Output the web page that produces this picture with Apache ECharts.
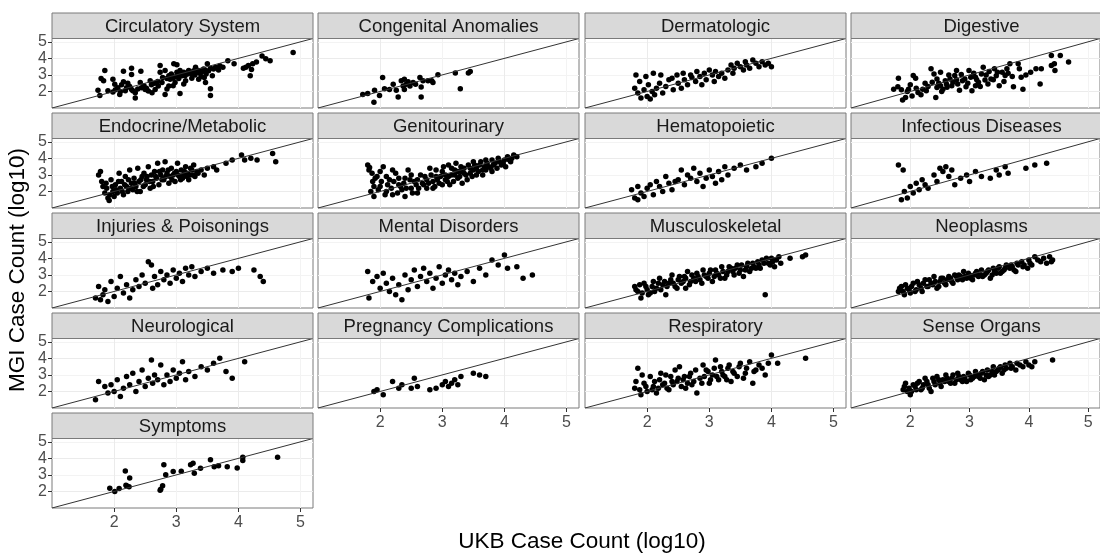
<!DOCTYPE html>
<html><head><meta charset="utf-8">
<script src="https://cdn.jsdelivr.net/npm/echarts@6/dist/echarts.min.js"></script>
<style>html,body{margin:0;padding:0;background:#fff}#c{width:1100px;height:555px}</style>
</head><body><div id="c"></div>
<script>
const panelNames = ["Circulatory System","Congenital Anomalies","Dermatologic","Digestive","Endocrine/Metabolic","Genitourinary","Hematopoietic","Infectious Diseases","Injuries & Poisonings","Mental Disorders","Musculoskeletal","Neoplasms","Neurological","Pregnancy Complications","Respiratory","Sense Organs","Symptoms"];
const tickValues = [2,3,4,5];
const axisMin = 1.0, axisMax = 5.2;
const xTitle = "UKB Case Count (log10)";
const yTitle = "MGI Case Count (log10)";

const circulatory = [[1.74,2.08],[1.77,1.75],[1.79,2.79],[1.83,2.64],[1.85,3.26],[1.98,2.74],[2.01,2.43],[2.06,2.23],[1.98,1.96],[2.09,1.81],[2.15,3.22],[2.15,2.58],[2.28,3.40],[2.28,3.03],[2.43,3.22],[2.28,2.12],[2.34,1.61],[2.34,1.92],[2.20,2.23],[2.42,2.54],[2.44,2.23],[2.50,2.12],[2.58,2.64],[2.55,2.02],[2.61,1.92],[2.71,2.33],[2.66,2.12],[2.74,3.16],[2.74,3.57],[2.82,3.26],[2.82,1.81],[2.88,2.33],[2.90,2.74],[2.96,3.67],[3.01,3.61],[2.93,2.95],[2.98,2.54],[3.06,1.88],[3.09,2.95],[3.12,3.16],[3.15,2.64],[3.20,3.26],[3.25,3.05],[3.31,3.47],[3.34,3.16],[3.36,2.74],[3.39,3.26],[3.44,3.36],[3.50,3.67],[2.77,2.54],[2.85,2.79],[3.06,3.26],[3.01,3.16],[3.04,2.79],[2.88,2.95],[4.88,4.36],[4.38,4.15],[4.44,3.98],[4.51,3.86],[4.29,3.78],[4.23,3.67],[4.16,3.57],[4.08,3.40],[4.21,3.32],[4.19,2.95],[4.12,3.47],[3.93,3.67],[3.83,3.86],[3.75,3.47],[3.63,3.47],[3.55,3.40],[3.58,2.95],[3.55,2.17],[3.55,1.75],[3.47,2.54],[1.90,2.05],[2.02,2.10],[2.10,2.00],[2.12,2.40],[2.18,2.05],[2.22,2.50],[2.25,2.30],[2.30,2.05],[2.38,2.15],[2.48,2.35],[2.52,2.20],[2.60,2.40],[2.65,2.50],[2.70,2.60],[2.78,2.85],[2.92,3.05],[2.95,2.80],[3.00,2.90],[3.05,3.00],[3.10,3.10],[3.14,2.95],[3.18,3.05],[3.22,3.15],[3.28,3.25],[3.30,3.00],[3.33,3.30],[3.38,3.10],[3.42,3.20],[3.46,3.30],[3.48,3.05],[3.52,3.25],[3.60,3.35],[3.68,3.30],[3.70,3.55],[3.40,2.90],[3.45,2.85],[3.25,2.80],[3.12,2.45],[2.95,2.35],[2.85,2.15]];
const congenital = [[1.72,1.81],[1.80,1.88],[1.91,2.08],[1.90,1.34],[1.99,1.75],[2.04,2.85],[2.07,2.17],[2.15,2.12],[2.21,2.43],[2.26,2.08],[2.29,1.67],[2.34,2.64],[2.37,2.33],[2.39,2.74],[2.42,2.43],[2.48,2.33],[2.53,2.54],[2.57,2.43],[2.64,2.85],[2.66,2.27],[2.66,1.67],[2.69,2.64],[2.77,2.64],[2.83,2.64],[2.85,2.54],[2.93,3.01],[3.21,3.12],[3.29,2.17],[3.42,3.12],[3.45,3.20],[2.39,2.12],[2.45,2.58]];
const dermatologic = [[1.8,2.2],[1.82,3.0],[1.85,1.9],[1.88,2.6],[1.9,1.6],[1.95,2.1],[1.98,2.9],[2.0,1.7],[2.02,2.4],[2.05,1.55],[2.08,2.0],[2.1,3.1],[2.12,1.8],[2.15,2.2],[2.2,2.5],[2.22,3.0],[2.25,1.9],[2.3,2.3],[2.35,2.7],[2.4,2.8],[2.42,2.1],[2.48,3.0],[2.5,2.5],[2.55,2.2],[2.58,3.1],[2.6,2.7],[2.65,2.4],[2.7,3.0],[2.72,2.85],[2.78,2.6],[2.8,3.2],[2.85,2.9],[2.88,2.4],[2.92,3.1],[2.95,2.7],[3.0,3.3],[3.05,3.0],[3.08,2.6],[3.1,3.2],[3.15,2.9],[3.2,3.1],[3.25,2.8],[3.3,3.3],[3.35,3.6],[3.38,3.1],[3.4,3.4],[3.45,3.7],[3.5,3.5],[3.55,3.3],[3.58,3.8],[3.6,3.6],[3.65,3.4],[3.7,3.9],[3.75,3.7],[3.8,3.5],[3.85,3.8],[3.9,3.6],[3.95,3.7],[4.0,3.5]];
const digestive = [[1.80,2.80],[1.72,2.14],[1.79,2.29],[1.87,1.49],[1.92,1.63],[1.95,2.00],[1.97,2.14],[2.05,2.96],[2.09,2.80],[2.03,1.73],[2.13,1.94],[2.21,2.14],[2.27,2.04],[2.35,3.37],[2.40,3.06],[2.37,2.55],[2.43,1.63],[2.45,2.24],[2.51,2.35],[2.55,2.14],[2.59,2.65],[2.61,2.45],[2.67,2.76],[2.72,2.55],[2.75,2.96],[2.80,2.45],[2.86,3.02],[2.88,2.65],[2.94,2.29],[2.99,3.27],[3.02,2.86],[3.04,2.04],[3.10,2.86],[3.15,2.55],[3.20,3.06],[3.23,3.47],[3.26,2.69],[3.31,2.45],[3.36,2.76],[3.42,3.37],[3.47,3.16],[3.50,2.35],[3.55,3.16],[3.60,2.96],[3.63,3.37],[3.68,3.67],[3.74,2.29],[3.82,3.67],[3.84,3.37],[3.87,2.86],[3.90,2.14],[4.03,3.16],[4.12,3.37],[4.19,2.45],[4.21,3.37],[4.38,4.18],[4.43,3.67],[4.44,3.27],[4.53,4.18],[4.67,3.78],[4.38,3.57],[2.45,2.76],[2.51,3.16],[2.78,3.27],[2.83,2.08],[3.10,2.35],[1.85,2.1],[2.0,2.4],[2.1,2.2],[2.18,1.8],[2.25,2.5],[2.3,2.3],[2.48,2.5],[2.53,2.0],[2.62,2.25],[2.65,3.0],[2.7,2.35],[2.78,2.7],[2.92,2.75],[2.97,2.5],[3.07,3.1],[3.12,2.7],[3.18,2.3],[3.28,3.0],[3.33,3.2],[3.4,2.7],[3.45,2.95],[3.58,2.6],[3.65,3.1],[3.72,2.9],[3.95,3.0]];
const endocrine = [[1.75,3.0],[1.78,3.2],[1.8,2.6],[1.85,1.9],[1.88,2.2],[1.9,1.6],[1.92,1.45],[1.95,2.7],[1.98,2.0],[2.0,1.7],[2.02,2.4],[2.05,1.9],[2.08,3.1],[2.1,2.2],[2.12,2.6],[2.15,1.8],[2.18,2.9],[2.2,2.3],[2.22,2.0],[2.25,3.3],[2.28,2.5],[2.3,2.1],[2.32,2.8],[2.35,2.3],[2.38,3.4],[2.4,2.6],[2.42,2.0],[2.45,2.9],[2.48,3.1],[2.5,2.4],[2.52,2.7],[2.55,3.5],[2.58,2.2],[2.6,3.0],[2.62,2.6],[2.65,3.2],[2.68,2.8],[2.7,3.7],[2.72,2.4],[2.75,3.0],[2.78,3.3],[2.8,2.7],[2.82,3.8],[2.85,3.1],[2.88,2.5],[2.9,2.9],[2.92,3.4],[2.95,3.0],[2.98,2.6],[3.0,3.2],[3.02,3.7],[3.05,2.9],[3.08,3.3],[3.1,2.8],[3.12,3.0],[3.15,3.5],[3.18,3.1],[3.2,2.7],[3.22,3.0],[3.25,3.3],[3.28,3.6],[3.3,2.9],[3.35,3.1],[3.4,3.3],[3.5,3.4],[3.6,3.5],[3.65,3.3],[3.8,3.7],[3.9,3.9],[4.05,4.2],[4.1,3.9],[4.2,4.0],[4.3,3.9],[4.55,4.3],[4.6,3.8],[1.82,2.3],[1.87,2.5],[1.93,1.8],[1.97,2.3],[2.03,2.1],[2.07,2.6],[2.13,2.0],[2.17,2.4],[2.23,2.7],[2.27,2.2],[2.33,2.5],[2.37,2.0],[2.43,2.7],[2.47,2.3],[2.53,2.9],[2.57,2.6],[2.63,2.3],[2.67,2.9],[2.73,3.2],[2.77,2.7],[2.83,2.9],[2.87,3.3],[2.93,2.7],[2.97,3.1],[3.03,3.0],[3.07,2.7],[3.13,3.2],[3.17,2.9],[3.23,3.4],[3.27,3.0],[3.33,3.2],[3.45,3.0]];
const genitourinary = [[1.8,3.6],[1.82,3.3],[1.85,2.0],[1.88,2.6],[1.9,1.7],[1.95,2.9],[2.0,2.3],[2.05,3.5],[2.1,2.0],[2.15,2.7],[2.2,1.8],[2.25,3.1],[2.3,2.4],[2.35,2.1],[2.4,2.8],[2.45,3.3],[2.5,2.2],[2.55,2.6],[2.6,1.9],[2.65,3.0],[2.7,2.4],[2.75,2.7],[2.8,3.4],[2.85,2.2],[2.9,2.9],[2.95,2.5],[3.0,3.2],[3.05,2.7],[3.1,3.6],[3.12,2.4],[3.15,3.0],[3.2,3.3],[3.25,2.8],[3.3,3.5],[3.35,3.1],[3.4,2.7],[3.45,3.4],[3.5,3.8],[3.55,3.0],[3.6,3.6],[3.65,3.3],[3.7,3.9],[3.75,3.5],[3.8,3.2],[3.85,3.7],[3.9,4.0],[3.95,3.6],[4.0,3.9],[4.05,4.1],[4.1,3.8],[4.15,4.2],[1.83,3.45],[1.87,3.1],[1.9,2.3],[1.92,2.8],[1.97,2.1],[2.0,3.2],[2.02,2.6],[2.08,1.8],[2.1,2.9],[2.12,2.4],[2.18,2.2],[2.2,3.3],[2.22,2.6],[2.28,1.9],[2.3,2.8],[2.33,2.3],[2.38,2.5],[2.4,1.7],[2.42,2.2],[2.48,2.7],[2.5,3.0],[2.52,1.9],[2.58,2.4],[2.6,2.7],[2.62,2.2],[2.68,2.5],[2.72,2.9],[2.75,2.2],[2.78,2.5],[2.82,3.0],[2.85,2.6],[2.88,2.3],[2.9,3.3],[2.92,2.7],[2.97,2.9],[3.0,2.4],[3.02,3.5],[3.05,3.0],[3.08,2.6],[3.1,2.9],[3.15,3.4],[3.18,2.6],[3.2,3.0],[3.22,3.7],[3.25,3.2],[3.28,2.9],[3.3,3.2],[3.32,2.5],[3.35,3.4],[3.38,3.0],[3.42,3.6],[3.45,3.1],[3.48,2.9],[3.5,3.3],[3.52,3.6],[3.55,3.4],[3.58,3.2],[3.62,3.8],[3.65,3.0],[3.68,3.5],[3.7,3.3],[3.72,3.7],[3.78,3.4],[3.8,3.9],[3.82,3.6],[3.88,3.4],[3.92,3.8],[3.98,3.7],[4.02,3.5],[4.08,3.9],[4.12,4.0],[4.2,4.1]];
const hematopoietic = [[1.75,2.1],[1.8,1.6],[1.85,2.3],[1.9,1.9],[1.95,1.7],[2.0,2.2],[2.05,2.4],[2.1,1.8],[2.15,2.6],[2.2,2.3],[2.3,2.9],[2.35,2.5],[2.4,2.1],[2.5,2.7],[2.55,3.3],[2.6,2.4],[2.65,3.0],[2.7,2.8],[2.75,3.4],[2.8,2.6],[2.85,3.1],[2.9,2.3],[3.0,3.3],[3.05,2.9],[3.1,2.5],[3.15,3.2],[3.2,2.7],[3.25,3.5],[3.3,3.0],[3.5,3.6],[3.6,3.3],[3.85,3.7],[4.0,4.0],[1.85,1.5],[2.25,2.0],[2.45,2.6],[2.95,2.8],[3.4,3.4],[3.75,3.5]];
const infectious = [[1.8,3.6],[1.85,1.5],[1.88,3.3],[1.9,2.0],[1.95,1.6],[2.0,2.3],[2.05,1.9],[2.1,2.5],[2.15,2.1],[2.2,2.7],[2.25,2.4],[2.3,2.2],[2.4,3.0],[2.45,2.6],[2.5,3.4],[2.55,3.2],[2.6,3.5],[2.65,2.9],[2.7,3.3],[2.75,2.4],[2.85,2.8],[2.95,3.0],[3.0,2.6],[3.1,3.2],[3.2,2.9],[3.35,2.8],[3.45,3.3],[3.5,3.0],[3.6,3.5],[3.65,3.1],[3.95,3.4],[4.1,3.6],[4.3,3.7]];
const injuries = [[1.7,1.6],[1.75,2.3],[1.78,1.5],[1.82,1.8],[1.85,2.1],[1.9,1.4],[1.95,2.6],[2.0,1.7],[2.05,2.2],[2.1,2.9],[2.15,1.9],[2.2,2.4],[2.25,1.6],[2.3,2.1],[2.35,2.7],[2.4,2.3],[2.45,3.0],[2.5,2.5],[2.55,3.8],[2.6,3.6],[2.62,2.2],[2.65,2.9],[2.7,2.4],[2.75,3.2],[2.8,2.7],[2.85,3.0],[2.9,2.5],[2.95,3.3],[3.0,2.8],[3.05,3.1],[3.1,2.6],[3.15,3.4],[3.2,3.0],[3.25,3.5],[3.3,2.9],[3.4,3.2],[3.5,3.4],[3.6,3.1],[3.75,3.3],[3.9,3.2],[4.0,3.4],[4.25,3.3],[4.35,2.9],[4.4,2.6]];
const mental = [[1.8,3.2],[1.82,1.6],[1.88,2.6],[1.95,2.9],[2.0,2.2],[2.05,3.1],[2.1,2.5],[2.15,2.0],[2.2,2.8],[2.25,1.8],[2.3,2.4],[2.35,1.5],[2.4,3.0],[2.45,2.1],[2.5,2.7],[2.55,3.3],[2.6,2.3],[2.65,2.9],[2.7,3.4],[2.75,2.6],[2.8,3.1],[2.85,2.2],[2.9,2.8],[2.95,3.5],[3.0,2.5],[3.05,3.0],[3.1,3.3],[3.15,2.7],[3.2,3.1],[3.25,2.4],[3.3,2.9],[3.4,3.2],[3.5,2.6],[3.6,3.4],[3.7,3.0],[3.8,3.9],[3.9,3.6],[4.0,4.2],[4.05,3.4],[4.2,3.5],[4.3,2.8],[4.45,3.0]];
const musculoskeletal = [[1.8,2.3],[1.85,2.0],[1.9,1.6],[1.95,2.5],[2.0,2.1],[2.05,1.9],[2.1,2.6],[2.15,2.2],[2.2,2.8],[2.25,2.4],[2.3,1.8],[2.35,2.5],[2.4,3.0],[2.45,2.3],[2.5,2.7],[2.55,2.5],[2.6,2.9],[2.62,2.2],[2.65,3.2],[2.7,2.6],[2.75,2.8],[2.8,3.1],[2.85,2.7],[2.9,3.3],[2.95,2.9],[3.0,3.1],[3.05,2.6],[3.1,3.3],[3.15,3.0],[3.2,3.5],[3.25,2.8],[3.3,3.2],[3.35,3.4],[3.4,3.0],[3.45,3.6],[3.5,3.3],[3.55,2.9],[3.6,3.5],[3.65,3.2],[3.7,3.7],[3.75,3.4],[3.8,3.6],[3.85,3.9],[3.9,1.8],[3.95,3.7],[4.0,4.0],[4.05,3.5],[4.3,4.0],[4.5,4.1],[4.55,4.2],[1.82,2.1],[1.88,2.4],[1.92,1.9],[1.98,2.3],[2.02,1.8],[2.08,2.3],[2.12,2.0],[2.18,2.5],[2.22,2.1],[2.28,2.6],[2.32,2.3],[2.38,2.7],[2.42,2.5],[2.48,2.2],[2.52,2.9],[2.58,2.6],[2.62,2.8],[2.68,2.4],[2.72,3.0],[2.78,2.6],[2.82,2.9],[2.88,2.5],[2.92,3.0],[2.98,2.8],[3.02,3.3],[3.08,2.9],[3.12,3.1],[3.18,2.8],[3.22,3.2],[3.28,3.0],[3.32,3.5],[3.38,3.2],[3.42,3.4],[3.48,3.1],[3.52,3.6],[3.58,3.3],[3.62,3.7],[3.68,3.4],[3.72,3.5],[3.78,3.8],[3.82,3.4],[3.88,3.7],[3.92,4.0],[3.98,3.6],[4.02,3.8],[4.08,3.9],[4.12,4.1],[4.15,3.7]];
const neoplasms = [[1.8,2.0],[1.85,2.3],[1.9,1.8],[1.95,2.2],[2.0,1.9],[2.05,2.5],[2.1,2.1],[2.15,2.4],[2.2,2.0],[2.25,2.7],[2.3,2.3],[2.35,2.5],[2.4,2.9],[2.45,2.2],[2.5,2.6],[2.55,2.8],[2.6,2.4],[2.65,2.9],[2.7,2.6],[2.75,3.0],[2.8,2.7],[2.85,2.9],[2.9,3.2],[2.95,2.8],[3.0,3.0],[3.05,2.7],[3.1,3.1],[3.15,2.9],[3.2,3.3],[3.25,3.0],[3.3,3.2],[3.35,2.8],[3.4,3.4],[3.45,3.1],[3.5,3.5],[3.55,3.2],[3.6,3.4],[3.7,3.6],[3.75,3.3],[3.8,3.7],[3.9,3.5],[4.0,3.9],[4.05,3.6],[4.1,4.1],[4.2,3.8],[4.3,3.7],[4.35,4.1],[4.4,3.9],[1.82,2.2],[1.88,2.0],[1.92,2.4],[1.98,2.1],[2.02,2.3],[2.08,2.0],[2.12,2.6],[2.18,2.2],[2.22,2.5],[2.28,2.3],[2.32,2.7],[2.38,2.4],[2.42,2.6],[2.48,2.3],[2.52,2.8],[2.58,2.5],[2.62,2.7],[2.68,2.8],[2.72,2.5],[2.78,2.9],[2.82,3.0],[2.88,2.7],[2.92,2.9],[2.98,3.1],[3.02,2.8],[3.08,3.0],[3.12,3.2],[3.18,3.0],[3.22,2.9],[3.28,3.1],[3.32,3.3],[3.38,3.0],[3.42,3.2],[3.48,3.4],[3.52,3.1],[3.58,3.3],[3.62,3.6],[3.68,3.4],[3.72,3.5],[3.78,3.2],[3.82,3.6],[3.88,3.8],[3.92,3.6],[3.98,3.4],[4.02,3.7],[4.15,3.9],[4.25,4.0],[4.38,3.8]];
const neurological = [[1.7,1.5],[1.75,2.6],[1.85,2.3],[1.9,1.9],[1.95,2.4],[2.0,2.0],[2.05,2.7],[2.1,1.7],[2.15,2.2],[2.2,2.9],[2.25,2.4],[2.3,3.1],[2.35,2.0],[2.4,2.6],[2.45,3.3],[2.5,2.3],[2.55,2.8],[2.6,3.9],[2.62,2.5],[2.65,3.0],[2.7,2.7],[2.75,3.6],[2.8,2.4],[2.85,3.0],[2.9,2.6],[2.95,3.3],[3.0,2.8],[3.05,3.1],[3.1,3.8],[3.15,2.7],[3.2,3.2],[3.3,2.9],[3.4,3.5],[3.5,3.3],[3.6,3.7],[3.7,4.0],[3.8,3.2],[3.9,2.8],[4.1,3.8]];
const pregnancy = [[1.9,2.0],[1.95,2.1],[2.05,1.8],[2.2,2.6],[2.3,2.2],[2.35,2.4],[2.5,2.2],[2.55,2.8],[2.6,2.3],[2.8,2.1],[2.9,2.2],[3.0,2.4],[3.05,2.6],[3.1,2.3],[3.15,2.5],[3.2,2.7],[3.25,2.4],[3.3,2.9],[3.5,3.1],[3.6,3.0],[3.7,2.9]];
const respiratory = [[1.8,2.2],[1.85,3.4],[1.9,1.8],[1.95,2.5],[2.0,2.0],[2.05,2.9],[2.1,2.3],[2.15,1.9],[2.2,2.7],[2.25,2.4],[2.3,3.0],[2.35,2.1],[2.4,2.6],[2.45,3.3],[2.5,2.8],[2.55,2.3],[2.6,2.9],[2.65,2.5],[2.7,3.1],[2.75,2.6],[2.8,1.9],[2.85,2.8],[2.9,3.6],[2.95,3.3],[3.0,2.5],[3.05,3.0],[3.1,3.9],[3.15,2.7],[3.2,3.2],[3.25,2.9],[3.3,3.4],[3.35,2.6],[3.4,3.1],[3.5,3.7],[3.55,2.8],[3.6,3.4],[3.7,2.5],[3.75,3.3],[3.8,3.6],[3.9,3.0],[4.0,4.2],[4.1,3.7],[4.55,4.0],[1.82,2.6],[1.88,2.1],[1.92,3.0],[1.98,2.3],[2.08,2.1],[2.12,2.6],[2.18,2.2],[2.22,3.1],[2.28,2.5],[2.32,2.2],[2.38,2.9],[2.42,2.4],[2.48,2.6],[2.52,3.5],[2.58,2.7],[2.62,2.2],[2.68,2.9],[2.72,2.4],[2.78,3.3],[2.88,2.5],[2.92,2.9],[2.98,3.2],[3.02,2.7],[3.08,3.4],[3.12,2.9],[3.18,3.5],[3.22,3.0],[3.28,2.7],[3.32,3.6],[3.38,3.2],[3.45,2.9],[3.48,3.5],[3.58,3.1],[3.65,3.8],[3.72,3.2],[3.85,3.4],[3.95,3.7]];
const senseOrgans = [[1.9,2.3],[1.95,2.0],[2.0,1.8],[2.05,2.4],[2.1,2.1],[2.15,2.6],[2.2,2.2],[2.25,2.8],[2.3,2.4],[2.35,2.0],[2.4,2.6],[2.45,2.9],[2.5,2.5],[2.55,2.7],[2.6,3.0],[2.65,2.6],[2.7,2.8],[2.75,2.5],[2.8,3.1],[2.85,2.7],[2.9,2.9],[2.95,2.6],[3.0,3.0],[3.05,2.8],[3.1,3.2],[3.15,2.9],[3.2,3.1],[3.25,2.7],[3.3,3.3],[3.35,3.0],[3.4,3.5],[3.45,3.2],[3.5,3.4],[3.55,3.1],[3.6,3.6],[3.7,3.4],[3.8,3.7],[3.9,3.5],[4.0,3.6],[4.1,3.8],[4.4,3.9],[1.88,2.1],[1.92,2.5],[1.98,2.2],[2.02,2.0],[2.08,2.3],[2.12,2.5],[2.18,2.1],[2.22,2.4],[2.28,2.6],[2.32,2.2],[2.38,2.8],[2.42,2.4],[2.48,2.7],[2.52,2.3],[2.58,2.6],[2.62,2.8],[2.68,2.5],[2.72,3.0],[2.78,2.7],[2.82,2.9],[2.88,2.6],[2.92,2.8],[2.98,3.1],[3.02,2.7],[3.08,2.9],[3.12,3.0],[3.18,2.8],[3.22,3.2],[3.28,3.0],[3.32,2.9],[3.38,3.2],[3.42,3.0],[3.48,3.3],[3.52,3.5],[3.58,3.3],[3.62,3.4],[3.68,3.7],[3.72,3.5],[3.78,3.3],[3.85,3.6],[3.95,3.8],[4.05,3.5]];
const symptoms = [[1.93,2.20],[2.01,2.00],[2.08,2.18],[2.18,3.24],[2.20,2.34],[2.25,2.81],[2.24,2.28],[2.75,2.14],[2.78,2.34],[2.80,3.62],[2.83,3.01],[2.95,3.20],[3.08,3.22],[3.23,3.62],[3.27,3.70],[3.29,3.10],[3.39,3.40],[3.55,3.91],[3.61,3.50],[3.68,3.56],[3.82,3.50],[3.98,3.42],[4.07,4.07],[4.07,3.87],[4.63,4.07],[2.19,2.38],[2.74,2.08]];

const panelData = [circulatory, congenital, dermatologic, digestive, endocrine, genitourinary, hematopoietic, infectious, injuries, mental, musculoskeletal, neoplasms, neurological, pregnancy, respiratory, senseOrgans, symptoms];

// layout
const FONT = "'Liberation Sans', Arial, sans-serif";
const colLeft0 = 52, colPitch = 266.3, panelW = 261;
const rowTop0 = 38.5, rowPitch = 100, panelH = 69.5, stripH = 25.5;
const nCols = 4;
const nPanels = panelNames.length;
const nRows = Math.ceil(nPanels / nCols);

const grids = [], xAxes = [], yAxes = [], series = [], graphics = [];
for (let i = 0; i < nPanels; i++) {
  const r = Math.floor(i / nCols), c = i % nCols;
  const left = Math.round(colLeft0 + c * colPitch);
  const top = rowTop0 + r * rowPitch;
  const showX = (i + nCols >= nPanels);
  const showY = (c === 0);
  grids.push({left: left, top: top, width: panelW, height: panelH, show: true,
    borderColor: '#7a7a7a', borderWidth: 1, backgroundColor: '#fff', containLabel: false});
  const common = {
    type: 'value', gridIndex: i, min: axisMin, max: axisMax, interval: 0.5,
    axisLine: {show: false},
    splitLine: {show: true, lineStyle: {color: ['#ebebeb', '#f3f3f3'], width: 1}},
  };
  xAxes.push(Object.assign({}, common, {
    axisTick: {show: showX, customValues: tickValues, length: 4, lineStyle: {color: '#333', width: 1}},
    axisLabel: {show: showX, customValues: tickValues, margin: 7, fontSize: 16, color: '#4d4d4d', fontFamily: FONT,
      formatter: v => (Number.isInteger(v) && v >= 2) ? String(v) : ''}
  }));
  yAxes.push(Object.assign({}, common, {
    axisTick: {show: showY, customValues: tickValues, length: 4, lineStyle: {color: '#333', width: 1}},
    axisLabel: {show: showY, customValues: tickValues, margin: 5, fontSize: 16, lineHeight: 16, color: '#4d4d4d', fontFamily: FONT,
      formatter: v => (Number.isInteger(v) && v >= 2) ? String(v) : ''}
  }));
  series.push({type: 'scatter', xAxisIndex: i, yAxisIndex: i, data: panelData[i],
    symbolSize: 5.5, itemStyle: {color: '#000', opacity: 1}, silent: true, z: 2});
  series.push({type: 'line', xAxisIndex: i, yAxisIndex: i, data: [[axisMin, axisMin], [axisMax, axisMax]],
    symbol: 'none', lineStyle: {color: '#333', width: 1}, silent: true, z: 3, animation: false});
  graphics.push({type: 'rect', shape: {x: left, y: top - stripH, width: panelW, height: stripH},
    style: {fill: '#d9d9d9', stroke: '#7a7a7a', lineWidth: 1}, z: 10});
  graphics.push({type: 'text', x: left + panelW / 2, y: top - stripH / 2 + 1,
    style: {text: panelNames[i], fontSize: 18.5, fontFamily: FONT, fill: '#1a1a1a', textAlign: 'center', textVerticalAlign: 'middle'}, z: 11});
}
graphics.push({type: 'text', x: (colLeft0 + colLeft0 + (nCols - 1) * colPitch + panelW) / 2, y: 542,
  style: {text: xTitle, fontSize: 22.5, fontFamily: FONT, fill: '#000', textAlign: 'center', textVerticalAlign: 'middle'}});
graphics.push({type: 'text', x: 18, y: 270, rotation: Math.PI / 2,
  style: {text: yTitle, fontSize: 22.5, fontFamily: FONT, fill: '#000', textAlign: 'center', textVerticalAlign: 'middle'}});

const chart = echarts.init(document.getElementById('c'), null, {renderer: 'canvas'});
chart.setOption({animation: false, backgroundColor: '#fff', grid: grids, xAxis: xAxes, yAxis: yAxes, series: series, graphic: graphics});
</script></body></html>
